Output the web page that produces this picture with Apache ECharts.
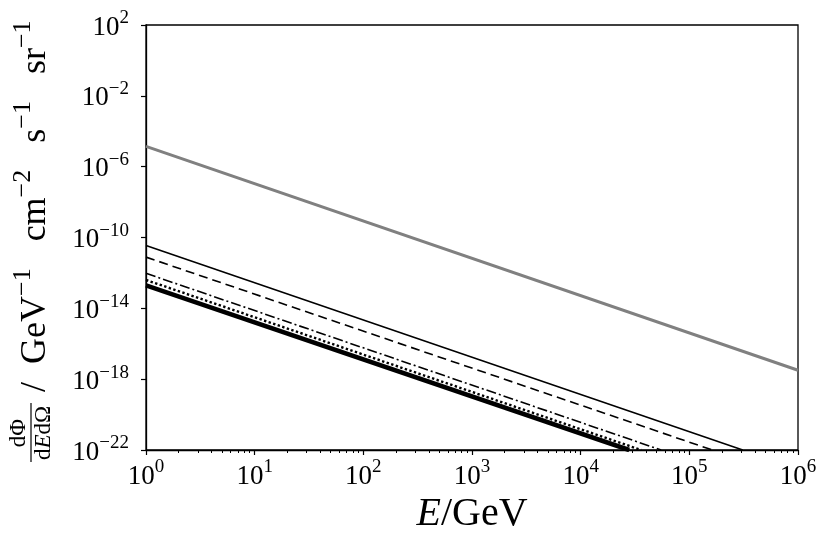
<!DOCTYPE html>
<html>
<head>
<meta charset="utf-8">
<script src="https://cdn.jsdelivr.net/npm/echarts@6/dist/echarts.min.js"></script>
<style>
  html, body { margin: 0; padding: 0; background: #fff; }
  #chart { width: 831px; height: 549px; }
</style>
</head>
<body>
<div id="chart"></div>
<script>
// energy ticks (exponents of 10) and flux ticks
const xTickExps = [0, 1, 2, 3, 4, 5, 6];
const yTickExps = [-22, -18, -14, -10, -6, -2, 2];

// flux curves: [E / GeV, flux]
const grayFlux = [[1, 1.4e-5], [1e6, 3.2e-18]];
const solidFlux = [[1, 3.5e-11], [3.1e5, 1e-22]];
const dashedFlux = [[1, 7.8e-12], [1.63e5, 1e-22]];
const dashDotFlux = [[1, 9.5e-13], [5.5e4, 1e-22]];
const dottedFlux = [[1, 4.0e-13], [3.6e4, 1e-22]];
const thickFlux = [[1, 2.0e-13], [2.8e4, 1e-22]];

const FONT = "'Liberation Serif', 'DejaVu Serif', serif";

function powLabel(v) {
  const e = Math.round(Math.log10(v));
  const s = e < 0 ? "\u2212" + (-e) : String(e);
  return "{b|10}{s|" + s + "}";
}

const labelRich = {
  b: { fontFamily: FONT, fontSize: 27, color: "#000", lineHeight: 32, verticalAlign: "bottom" },
  s: { fontFamily: FONT, fontSize: 19, color: "#000", lineHeight: 32, verticalAlign: "top" },
};

const chart = echarts.init(document.getElementById("chart"));

function line(data, color, width, type, z) {
  return {
    type: "line",
    data: data,
    symbol: "none",
    z: z,
    lineStyle: { color: color, width: width, type: type, cap: "butt" },
  };
}

const option = {
  animation: false,
  backgroundColor: "#fff",
  grid: {
    left: 146,
    right: 33,
    top: 25,
    bottom: 99,
    show: true,
    borderColor: "#000",
    borderWidth: 1.3,
  },
  xAxis: {
    type: "log",
    logBase: 10,
    min: 1,
    max: 1e6,
    name: "{i|E}{r|/GeV}",
    nameLocation: "middle",
    nameGap: 42,
    nameTextStyle: {
      rich: {
        i: { fontFamily: FONT, fontSize: 40, fontStyle: "italic", color: "#000" },
        r: { fontFamily: FONT, fontSize: 40, color: "#000" },
      },
    },
    axisLine: { lineStyle: { color: "#000", width: 1.3 } },
    axisTick: {
      inside: false,
      length: 5,
      lineStyle: { color: "#000", width: 1.2 },
      customValues: xTickExps.map((e) => Math.pow(10, e)),
    },
    minorTick: { show: true, splitNumber: 9, length: 3, lineStyle: { color: "#000", width: 1 } },
    axisLabel: {
      margin: 8,
      formatter: powLabel,
      rich: labelRich,
      customValues: xTickExps.map((e) => Math.pow(10, e)),
    },
    splitLine: { show: false },
    minorSplitLine: { show: false },
  },
  yAxis: {
    type: "log",
    logBase: 10,
    min: 1e-22,
    max: 1e2,
    axisLine: { show: true, lineStyle: { color: "#000", width: 1.3 } },
    axisTick: {
      show: true,
      inside: false,
      length: 5,
      lineStyle: { color: "#000", width: 1.2 },
      customValues: yTickExps.map((e) => Math.pow(10, e)),
    },
    axisLabel: {
      margin: 17,
      formatter: powLabel,
      rich: labelRich,
      customValues: yTickExps.map((e) => Math.pow(10, e)),
    },
    splitLine: { show: false },
  },
  series: [
    line(grayFlux, "#808080", 3, "solid", 2),
    line(solidFlux, "#000", 1.6, "solid", 3),
    line(dashedFlux, "#000", 1.6, [9, 5], 3),
    line(dashDotFlux, "#000", 1.6, [10, 3, 2, 3], 3),
    line(dottedFlux, "#000", 2.4, [2.4, 2.4], 4),
    line(thickFlux, "#000", 4.5, "solid", 3),
  ],
  graphic: [
    {
      type: "group",
      x: 31,
      y: 462,
      rotation: Math.PI / 2,
      children: [
        {
          type: "text",
          x: 29,
          y: -1,
          style: {
            text: "d\u03A6",
            fontFamily: FONT,
            fontSize: 23,
            fill: "#000",
            align: "center",
            verticalAlign: "bottom",
          },
        },
        {
          type: "line",
          shape: { x1: 0, y1: 0, x2: 59, y2: 0 },
          style: { stroke: "#000", lineWidth: 1.2 },
        },
        {
          type: "text",
          x: 29,
          y: 1,
          style: {
            text: "{a|d}{i|E}{a|d\u03A9}",
            align: "center",
            verticalAlign: "top",
            rich: {
              a: { fontFamily: FONT, fontSize: 23, color: "#000" },
              i: { fontFamily: FONT, fontSize: 23, fontStyle: "italic", color: "#000" },
            },
          },
        },
        {
          type: "text",
          x: 70,
          y: 1,
          style: {
            text:
              "{m|/  GeV}{s|\u22121}{m|   cm}{s|\u22122}{m|   s}{s|\u22121}{m|   sr}{s|\u22121}",
            align: "left",
            verticalAlign: "middle",
            rich: {
              m: { fontFamily: FONT, fontSize: 36, color: "#000", lineHeight: 44, verticalAlign: "bottom" },
              s: { fontFamily: FONT, fontSize: 26, color: "#000", lineHeight: 44, verticalAlign: "top" },
            },
          },
        },
      ],
    },
  ],
};

chart.setOption(option);

window.addEventListener("resize", () => {
  chart.resize();
});
</script>
</body>
</html>
